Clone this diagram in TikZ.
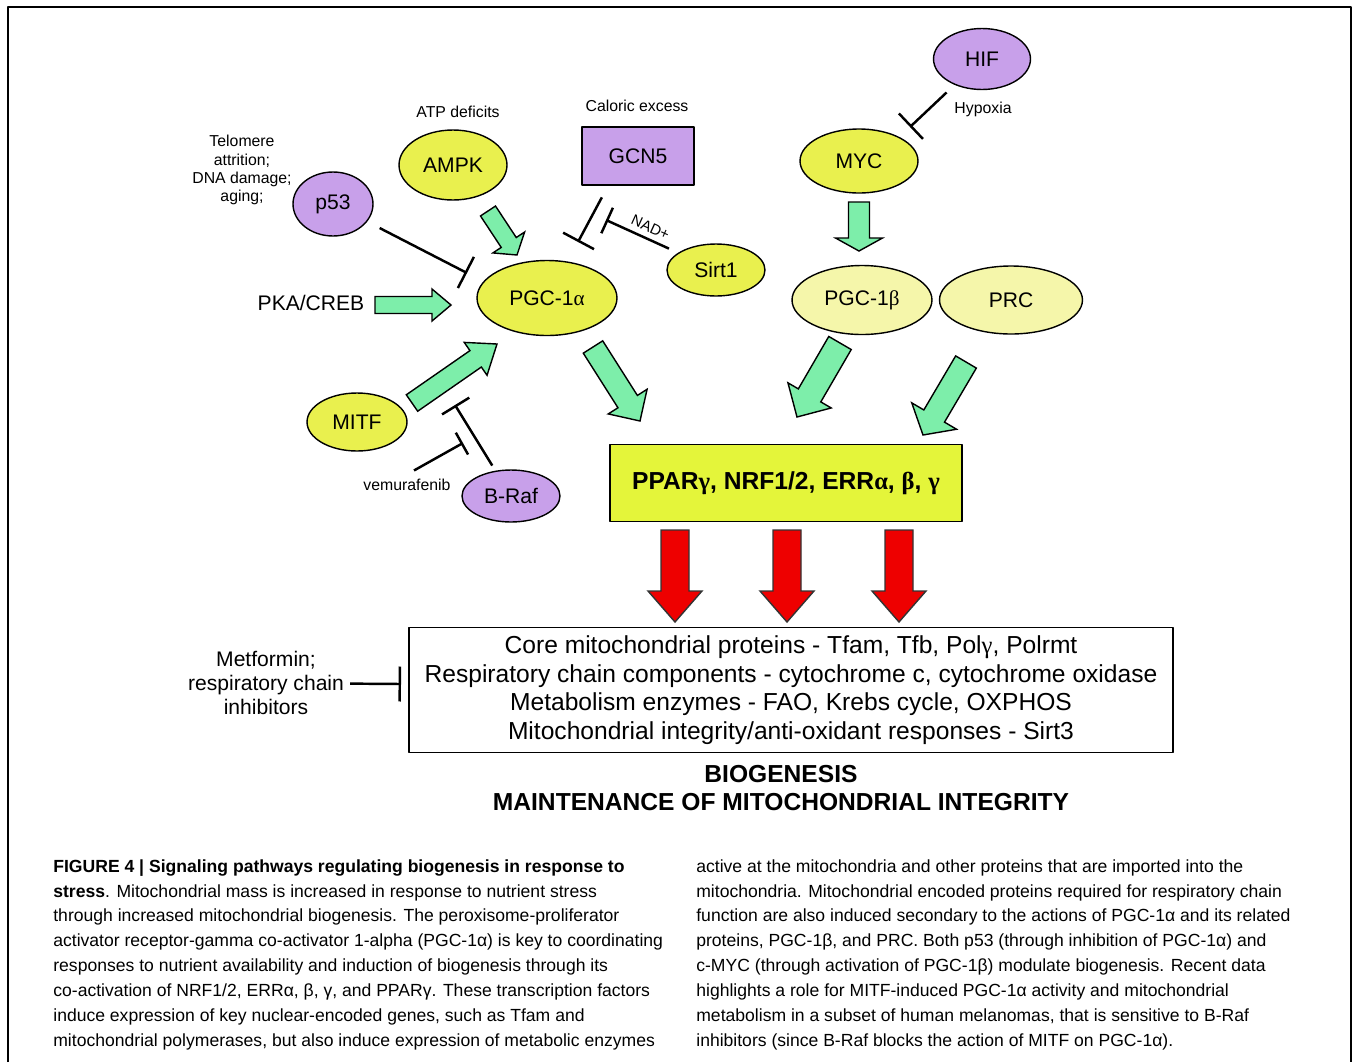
\documentclass[tikz,border=0pt]{standalone}
\usepackage{fontspec}
\setmainfont{Liberation Sans}
\newfontfamily\grk{Liberation Serif}
\newcommand{\galpha}{{\grk α}}
\newcommand{\gbeta}{{\grk β}}
\newcommand{\ggamma}{{\grk γ}}
\usetikzlibrary{calc,arrows.meta,shapes.geometric}
\definecolor{yel}{RGB}{233,240,78}
\definecolor{paleyel}{RGB}{245,246,170}
\definecolor{purp}{RGB}{200,160,234}
\definecolor{mint}{RGB}{125,238,170}
\definecolor{boxyel}{RGB}{228,245,58}
\definecolor{redarr}{RGB}{238,0,0}
\tikzset{
	ell/.style={ellipse,draw,line width=0.8pt,inner sep=0pt,font=\fontsize{12}{14}\selectfont},
	small/.style={font=\fontsize{9}{10.3}\selectfont,align=center},
	inh/.style={line width=1.4pt,-{Bar[width=#1,line width=1.4pt]}},
	inh/.default=0.7cm,
	arrgreen/.style={draw,fill=mint,line width=0.8pt,line join=miter},
	arrred/.style={draw=black!80,fill=redarr,line width=0.8pt,line join=miter}
}
%==block arrow: [style]{tail}{tip}{half shaft}{half head}{head length}
\newcommand{\barrow}[6][arrgreen]{%
	\coordinate (hb) at ($(#3)!#6!(#2)$);
	\draw[#1] ($(#2)!#4!90:(#3)$)--($(hb)!#4!-90:(#2)$)--($(hb)!#5!-90:(#2)$)--(#3)
	--($(hb)!#5!90:(#2)$)--($(hb)!#4!90:(#2)$)--($(#2)!#4!-90:(#3)$)--cycle;}
\begin{document}
\begin{tikzpicture}[x=0.02cm,y=-0.02cm,line join=round]
		\useasboundingbox (0,0) rectangle (1356,1062);
		\draw[line width=1.1pt] (8,1062)--(8,7)--(1351,7)--(1351,1062);
		%==nodes
		\node[ell,fill=purp,minimum width=1.94cm,minimum height=1.22cm] (hif) at (982,59) {HIF};
		\node[ell,fill=yel,minimum width=2.36cm,minimum height=1.28cm] (myc) at (859,161) {MYC};
		\node[ell,fill=paleyel,minimum width=2.8cm,minimum height=1.38cm] (pgcb) at (862,300) {PGC-1\gbeta};
		\node[ell,fill=paleyel,minimum width=2.86cm,minimum height=1.36cm] (prc) at (1011,300) {PRC};
		\node[draw,line width=1pt,fill=purp,minimum width=2.24cm,minimum height=1.16cm,font=\fontsize{12}{14}\selectfont] (gcn5) at (638,156) {GCN5};
		\node[ell,fill=yel,minimum width=2.16cm,minimum height=1.4cm] (ampk) at (453,165) {AMPK};
		\node[ell,fill=purp,minimum width=1.6cm,minimum height=1.28cm] (p53) at (333,204) {p53};
		\node[ell,fill=yel,minimum width=1.96cm,minimum height=1.04cm] (sirt) at (716,270) {Sirt1};
		\node[ell,fill=yel,minimum width=2.8cm,minimum height=1.5cm] (pgca) at (547,298) {PGC-1\galpha};
		\node[ell,fill=yel,minimum width=2cm,minimum height=1.16cm] (mitf) at (357,422) {MITF};
		\node[ell,fill=purp,minimum width=1.96cm,minimum height=1.04cm] (braf) at (511,496) {B-Raf};
		\node[draw,line width=1pt,fill=boxyel,minimum width=7.04cm,minimum height=1.54cm,font=\bfseries\fontsize{14}{16}\selectfont] (ppar) at (786,483) {PPAR\ggamma, NRF1/2, ERR\galpha, \gbeta, \ggamma};
		\node[draw,line width=1.1pt,fill=white,minimum width=15.28cm,minimum height=2.5cm,align=center,font=\fontsize{14}{16.3}\selectfont] (genes) at (791,690) {Core mitochondrial proteins - Tfam, Tfb, Pol\ggamma, Polrmt\\Respiratory chain components - cytochrome c, cytochrome oxidase\\Metabolism enzymes - FAO, Krebs cycle, OXPHOS\\Mitochondrial integrity/anti-oxidant responses - Sirt3};
		%==labels
		\node[small] (hyp) at (983,109) {Hypoxia};
		\node[small] (atp) at (458,112) {ATP deficits};
		\node[small] (cal) at (637,106) {Caloric excess};
		\node[small] (telo) at (242,170) {Telomere\\attrition;\\DNA damage;\\aging;};
		\node[font=\fontsize{12}{14}\selectfont] (pka) at (311,303) {PKA/CREB};
		\node[small] (vemu) at (407,485) {vemurafenib};
		\node[align=center,font=\fontsize{12}{13.7}\selectfont] (met) at (266,683) {Metformin;\\respiratory chain\\inhibitors};
		\node[align=center,font=\bfseries\fontsize{14}{16}\selectfont] (bio) at (781,788) {BIOGENESIS\\MAINTENANCE OF MITOCHONDRIAL INTEGRITY};
		%==inhibitions
		\coordinate (mycT) at (910,127);
		\coordinate (p53T) at (467,273);
		\coordinate (gcnT) at (578,242);
		\coordinate (sirtT) at (606,220);
		\coordinate (brafT) at (455,405);
		\coordinate (vemT) at (463,443);
		\coordinate (metT) at (401,684);
		\draw[inh,shorten <=0.22cm] (hif)--(mycT);
		\draw[inh,shorten <=0.28cm] (p53)--(p53T);
		\draw[inh,shorten <=0.26cm] ([xshift=-0.6cm]gcn5.south)--(gcnT);
		\draw[inh=0.56cm,shorten <=0.2cm] (sirt)--(sirtT) node[pos=0.45,sloped,above=3pt,inner sep=0pt,font=\fontsize{8.5}{9}\selectfont] (nad) {NAD+};
		\draw[inh=0.64cm,shorten <=0.12cm] (braf)--(brafT);
		\draw[inh=0.5cm] ([xshift=0.14cm,yshift=0.05cm]vemu.north)--(vemT);
		\draw[inh] (met)--(metT);
		%==activations
		\coordinate (ampkA) at (488,211); \coordinate (ampkB) at (517,255);
		\coordinate (pkaA) at (375,305); \coordinate (pkaB) at (451,305);
		\coordinate (mitfA) at (412,403); \coordinate (mitfB) at (497,344);
		\coordinate (pgcaA) at (593,347); \coordinate (pgcaB) at (640,421);
		\coordinate (mycA) at (859,202); \coordinate (mycB) at (859,251);
		\coordinate (pgcbA) at (840,343); \coordinate (pgcbB) at (797,417);
		\coordinate (prcA) at (966,362); \coordinate (prcB) at (923,435);
		\foreach \a/\s/\h/\l in {ampk/0.18cm/0.38cm/0.3cm,pka/0.17cm/0.32cm/0.38cm,mitf/0.2cm/0.4cm/0.52cm,pgca/0.23cm/0.46cm/0.46cm,myc/0.21cm/0.47cm/0.26cm,pgcb/0.26cm/0.5cm/0.5cm,prc/0.24cm/0.52cm/0.44cm}
		{\barrow{\a A}{\a B}{\s}{\h}{\l}}
		\foreach \x in {675,787,899}{
			\coordinate (rA) at (\x,530); \coordinate (rB) at (\x,622);
			\barrow[arrred]{rA}{rB}{0.28cm}{0.54cm}{0.62cm}}
		%==caption
		\node[anchor=north west,inner sep=0pt,align=left,font=\fontsize{10}{14.2}\selectfont] (capl) at (53,859) {\textbf{FIGURE 4 | Signaling pathways regulating biogenesis in response to}\\
			\textbf{stress}. Mitochondrial mass is increased in response to nutrient stress\\
			through increased mitochondrial biogenesis. The peroxisome-proliferator\\
			activator receptor-gamma co-activator 1-alpha (PGC-1α) is key to coordinating\\
			responses to nutrient availability and induction of biogenesis through its\\
			co-activation of NRF1/2, ERRα, β, γ, and PPARγ. These transcription factors\\
			induce expression of key nuclear-encoded genes, such as Tfam and\\
			mitochondrial polymerases, but also induce expression of metabolic enzymes};
		\node[anchor=north west,inner sep=0pt,align=left,font=\fontsize{10}{14.2}\selectfont] (capr) at (696,859) {active at the mitochondria and other proteins that are imported into the\\
			mitochondria. Mitochondrial encoded proteins required for respiratory chain\\
			function are also induced secondary to the actions of PGC-1α and its related\\
			proteins, PGC-1β, and PRC. Both p53 (through inhibition of PGC-1α) and\\
			c-MYC (through activation of PGC-1β) modulate biogenesis. Recent data\\
			highlights a role for MITF-induced PGC-1α activity and mitochondrial\\
			metabolism in a subset of human melanomas, that is sensitive to B-Raf\\
			inhibitors (since B-Raf blocks the action of MITF on PGC-1α).};
\end{tikzpicture}
\end{document}
